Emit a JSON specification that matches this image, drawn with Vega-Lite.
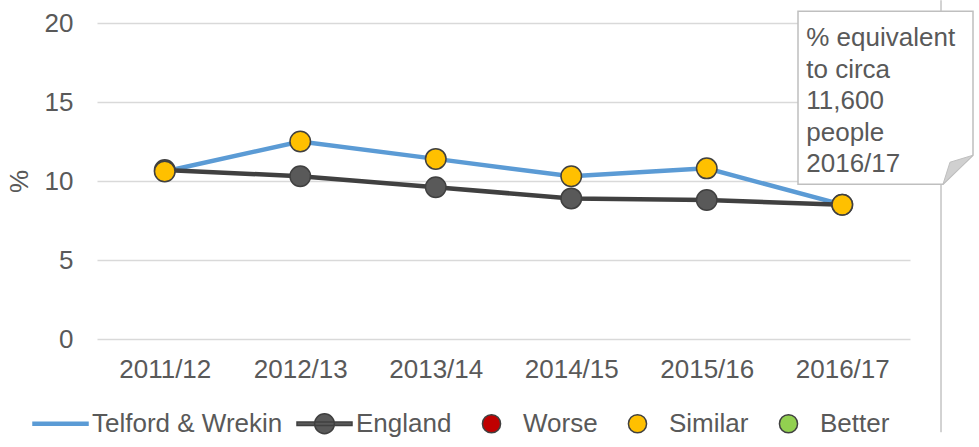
{
  "$schema": "https://vega.github.io/schema/vega-lite/v6.json",
  "width": 813,
  "height": 316,
  "autosize": "none",
  "padding": {"left": 97, "top": 23, "right": 69, "bottom": 108},
  "background": "white",
  "config": {
    "view": {"stroke": null},
    "font": "Liberation Sans",
    "axis": {"labelFont": "Liberation Sans", "titleFont": "Liberation Sans"}
  },
  "datasets": {
    "rates": [
      {"year": "2011/12", "series": "England", "key": "England", "value": 10.7},
      {"year": "2012/13", "series": "England", "key": "England", "value": 10.3},
      {"year": "2013/14", "series": "England", "key": "England", "value": 9.6},
      {"year": "2014/15", "series": "England", "key": "England", "value": 8.9},
      {"year": "2015/16", "series": "England", "key": "England", "value": 8.8},
      {"year": "2016/17", "series": "England", "key": "England", "value": 8.5},
      {"year": "2011/12", "series": "Telford & Wrekin", "key": "Similar", "value": 10.6},
      {"year": "2012/13", "series": "Telford & Wrekin", "key": "Similar", "value": 12.5},
      {"year": "2013/14", "series": "Telford & Wrekin", "key": "Similar", "value": 11.4},
      {"year": "2014/15", "series": "Telford & Wrekin", "key": "Similar", "value": 10.3},
      {"year": "2015/16", "series": "Telford & Wrekin", "key": "Similar", "value": 10.8},
      {"year": "2016/17", "series": "Telford & Wrekin", "key": "Similar", "value": 8.5}
    ]
  },
  "data": {"name": "rates"},
  "layer": [
    {
      "transform": [{"filter": "datum.series === 'Telford & Wrekin'"}],
      "mark": {"type": "line", "stroke": "#5b9bd5", "strokeWidth": 4.5},
      "encoding": {
        "x": {
          "field": "year", "type": "ordinal", "title": null,
          "scale": {"type": "point", "padding": 0.5},
          "axis": {"labelAngle": 0, "labelFontSize": 26, "labelColor": "#595959", "ticks": false, "tickSize": 0, "domain": false, "labelPadding": 17, "grid": false}
        },
        "y": {
          "field": "value", "type": "quantitative", "title": "%",
          "scale": {"domain": [0, 20], "nice": false},
          "axis": {"values": [0, 5, 10, 15, 20], "labelFontSize": 26, "labelColor": "#595959", "ticks": false, "tickSize": 0, "domain": false, "labelPadding": 24, "gridColor": "#d9d9d9", "gridWidth": 1.5, "titleFontSize": 26, "titleFontWeight": "normal", "titleColor": "#595959", "titlePadding": 12}
        }
      }
    },
    {
      "transform": [{"filter": "datum.series === 'England'"}],
      "mark": {"type": "line", "stroke": "#404040", "strokeWidth": 4.5},
      "encoding": {
        "x": {"field": "year", "type": "ordinal", "title": null},
        "y": {"field": "value", "type": "quantitative", "title": "%"}
      }
    },
    {
      "mark": {"type": "point", "filled": true, "size": 420, "stroke": "#404040", "strokeWidth": 1.5, "opacity": 1},
      "encoding": {
        "x": {"field": "year", "type": "ordinal", "title": null},
        "y": {"field": "value", "type": "quantitative", "title": "%"},
        "fill": {
          "field": "key", "type": "nominal",
          "scale": {
            "domain": ["Telford & Wrekin", "England", "Worse", "Similar", "Better"],
            "range": ["#5b9bd5", "#595959", "#c00000", "#ffc000", "#92d050"]
          },
          "legend": {
            "orient": "none", "legendX": -65, "legendY": 372, "direction": "horizontal", "title": null,
            "symbolSize": 3025, "symbolStrokeWidth": 1.5, "symbolOpacity": 1,
            "labelFontSize": 26, "labelColor": "#595959", "labelFont": "Liberation Sans", "labelLimit": 400,
            "labelOffset": 3, "columnPadding": 11, "padding": 0,
            "encoding": {
              "symbols": {
                "shape": {"value": {"expr": "datum.value === 'Telford & Wrekin' ? 'M-1,-0.055H1V0.055H-1Z' : datum.value === 'England' ? 'M-1,-0.06H1V0.06H-1Z M0.36,0A0.36,0.36 0 1 1 -0.36,0A0.36,0.36 0 1 1 0.36,0Z' : 'M0.33,0A0.33,0.33 0 1 1 -0.33,0A0.33,0.33 0 1 1 0.33,0Z'"}},
                "stroke": {"value": {"expr": "datum.value === 'Telford & Wrekin' ? '#5b9bd5' : '#404040'"}}
              }
            }
          }
        }
      }
    },
    {
      "data": {"values": [{"note": "border"}]},
      "mark": {"type": "rule", "stroke": "#a6a6a6", "strokeWidth": 1, "xOffset": 98.75},
      "encoding": {
        "x": {"datum": "2016/17", "type": "ordinal", "title": null},
        "y": {"datum": 21.44, "type": "quantitative", "title": "%"},
        "y2": {"datum": -5.9}
      }
    },
    {
      "data": {"values": [{"note": "box"}]},
      "mark": {"type": "point", "filled": true, "fill": "white", "stroke": "#bfbfbf", "strokeWidth": 1.5, "opacity": 1, "size": 30625, "xOffset": 43.25,
        "shape": "M-1,-0.989L1,-0.989L1,0.657L0.657,0.989L-1,0.989Z"},
      "encoding": {
        "x": {"datum": "2016/17", "type": "ordinal", "title": null},
        "y": {"datum": 15.27, "type": "quantitative", "title": "%"}
      }
    },
    {
      "data": {"values": [{"note": "fold"}]},
      "mark": {"type": "point", "filled": true, "fill": "#d0d0d0", "stroke": "#bfbfbf", "strokeWidth": 1, "opacity": 1, "size": 30625, "xOffset": 43.25,
        "shape": "M1,0.657L0.657,0.989L0.737,0.737Z"},
      "encoding": {
        "x": {"datum": "2016/17", "type": "ordinal", "title": null},
        "y": {"datum": 15.27, "type": "quantitative", "title": "%"}
      }
    },
    {
      "data": {"values": [{"note": "text"}]},
      "mark": {"type": "text", "align": "left", "baseline": "alphabetic", "dx": -36, "fontSize": 26, "lineHeight": 31.5, "color": "#595959", "font": "Liberation Sans",
        "text": ["% equivalent", "to circa", "11,600", "people", "2016/17"]},
      "encoding": {
        "x": {"datum": "2016/17", "type": "ordinal", "title": null},
        "y": {"datum": 18.54, "type": "quantitative", "title": "%"}
      }
    }
  ]
}
